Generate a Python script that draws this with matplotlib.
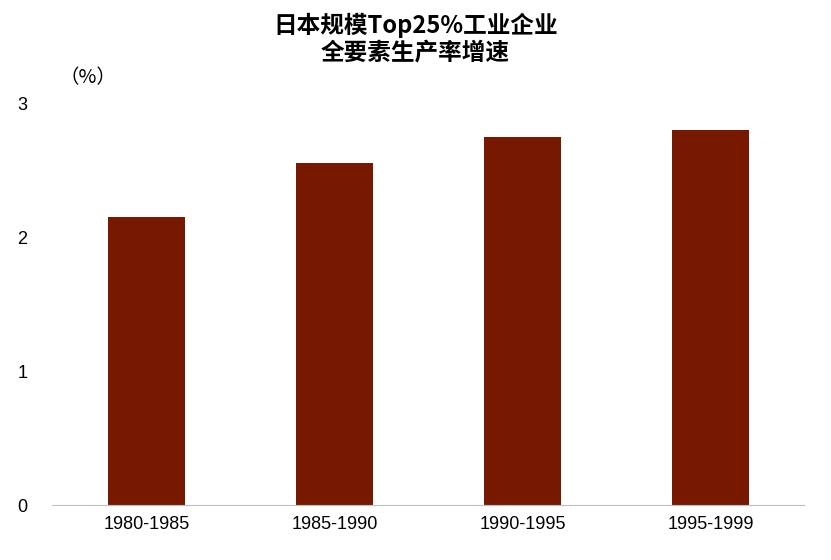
import matplotlib
matplotlib.use("Agg")
import matplotlib.pyplot as plt

plt.rcParams['font.family'] = ['Liberation Sans', 'Noto Sans CJK SC', 'DejaVu Sans']

categories = ["1980-1985", "1985-1990", "1990-1995", "1995-1999"]
values = [2.15, 2.55, 2.75, 2.80]
yticks = [0, 1, 2, 3]

fig = plt.figure(figsize=(8.31, 5.60), dpi=100)
ax = fig.add_axes([0.063, 0.098, 0.905, 0.718])
ax.bar(range(len(categories)), values, width=0.41, color="#761900")
ax.set_xlim(-0.5, 3.5)
ax.set_ylim(0, 3)
ax.set_yticks(yticks)
ax.set_xticks(range(len(categories)))
ax.set_xticklabels(categories, fontsize=13)
ax.tick_params(axis='y', labelsize=13, length=0, pad=18)
ax.tick_params(axis='x', length=0, pad=8)
for s in ['top', 'right', 'left']:
    ax.spines[s].set_visible(False)
ax.spines['bottom'].set_color('#bfbfbf')
fig.text(0.5, 0.93, "日本规模Top25%工业企业\n全要素生产率增速", ha='center', va='center',
         fontsize=17, fontweight='bold', linespacing=1.2,
         family=['Noto Sans CJK SC', 'DejaVu Sans'])
fig.text(0.072, 0.862, "（%）", ha='left', va='center', fontsize=14,
         family=['Noto Sans CJK SC', 'DejaVu Sans'])
fig.savefig("out.png", dpi=100)
